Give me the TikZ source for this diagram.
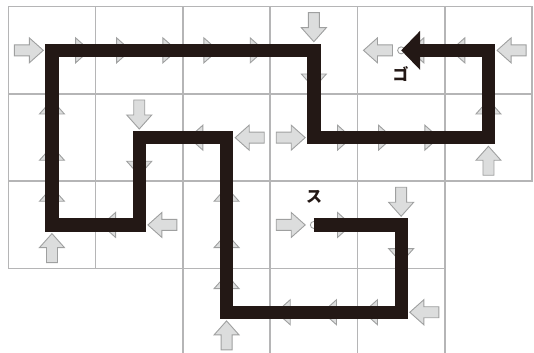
\documentclass[tikz,border=0pt]{standalone}
\usepackage{fontspec}
\newfontfamily\jpfont{Noto Sans CJK JP}
\usetikzlibrary{arrows.meta,calc}

\definecolor{routeblack}{HTML}{231815}
\definecolor{arrowfill}{HTML}{DCDDDD}
\definecolor{arrowedge}{HTML}{9FA0A0}
\definecolor{gridgrey}{HTML}{B5B5B6}

\tikzset{
  gridline/.style={draw=gridgrey, line width=1.6pt},
  arrowline/.style={draw=arrowedge, fill=arrowfill, line width=0.9pt, line join=miter},
  pics/flowarrow/.style={code={
    \path[arrowline] (-14.5pt,-5.5pt) -- (0.5pt,-5.5pt) -- (0.5pt,-12.5pt) -- (14.5pt,0pt)
      -- (0.5pt,12.5pt) -- (0.5pt,5.5pt) -- (-14.5pt,5.5pt) -- cycle;
  }},
  endmark/.style={circle, draw=arrowedge, fill=white, line width=0.9pt, inner sep=0pt, minimum size=7pt},
  route/.style={draw=routeblack, line width=13.3pt, line join=miter, line cap=butt},
  jplabel/.style={font=\jpfont\bfseries\fontsize{16pt}{16pt}\selectfont, text=routeblack, inner sep=0pt}
}

\begin{document}
\begin{tikzpicture}[x=87.3pt, y=87.3pt]
  \useasboundingbox (-0.0951,0.0767) rectangle (6.0218,-3.9668);

  % cells: row/column/direction of flow
  \foreach \r/\c/\a in {0/0/0, 0/1/0, 0/2/0, 0/3/270, 0/4/180, 0/5/180,
                        1/0/90, 1/1/270, 1/2/180, 1/3/0, 1/4/0, 1/5/90,
                        2/0/90, 2/1/180, 2/2/90, 2/3/0, 2/4/270,
                        3/2/90, 3/3/180, 3/4/180} {
    \draw[gridline] (\c,-\r) rectangle ++(1,-1);
    \coordinate (m\r\c) at (\c+.5,-\r-.5);
    \pic[rotate=\a] at ($(m\r\c)+(\a:23.15pt)$) {flowarrow};
    \pic[rotate=\a] at ($(m\r\c)-(\a:23.15pt)$) {flowarrow};
  }

  \node[endmark] (start) at (m23) {};
  \node[endmark] (goal) at (m04) {};

  \draw[route, -{Triangle[length=19pt, width=38pt]}] (start.center) -- (m24) -- (m34) -- (m32)
    -- (m12) -- (m11) -- (m21) -- (m20) -- (m00) -- (m03) -- (m13) -- (m15) -- (m05) -- (goal.center);

  \node[jplabel] (startlbl) at (3.502,-2.180) {ス};
  \node[jplabel] (goallbl) at (4.494,-0.771) {ゴ};
\end{tikzpicture}
\end{document}
